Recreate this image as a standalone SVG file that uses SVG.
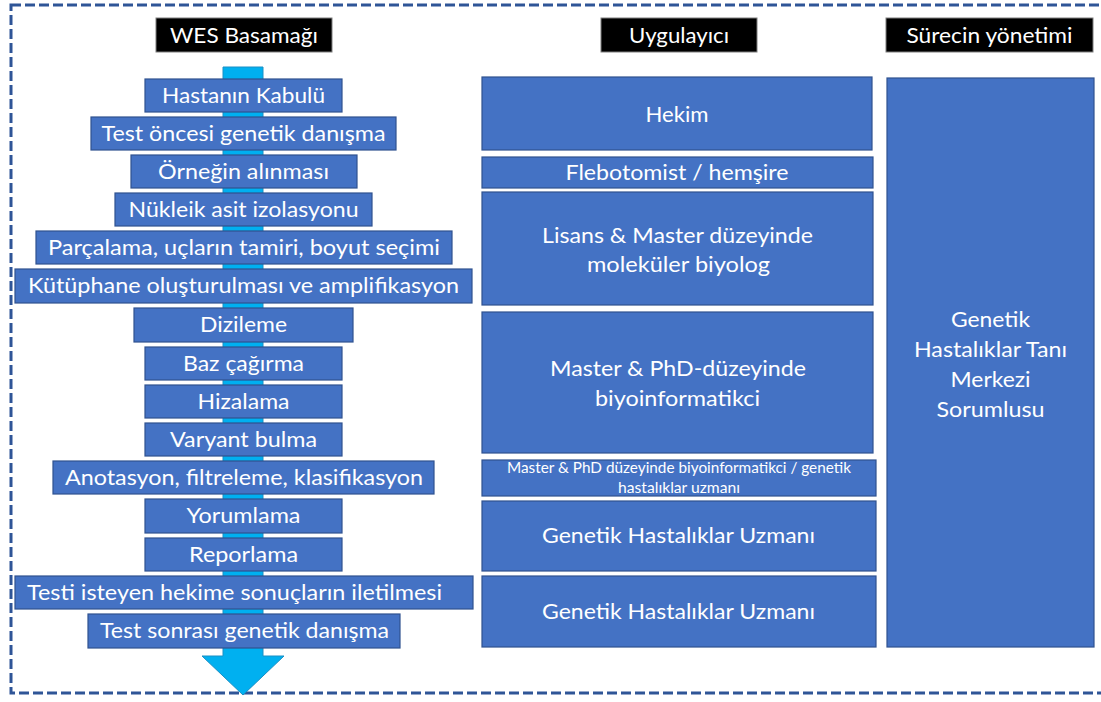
<svg xmlns="http://www.w3.org/2000/svg" width="1101" height="702" viewBox="0 0 1101 702">
<style>
.frame{fill:none;stroke:#2F5597;stroke-width:3;stroke-dasharray:10 4}
.step{fill:#4472C4;stroke:#2F528F;stroke-width:1.2}
.hdr{fill:#000;stroke:#7F7F7F;stroke-width:1}
.t{font-family:Lato,"Liberation Sans",sans-serif;font-size:22px;fill:#fff;text-anchor:middle}
.ts{font-family:Lato,"Liberation Sans",sans-serif;font-size:15px;fill:#fff;text-anchor:middle}
.arrow{fill:#00B0F0;stroke:#1A8FC4;stroke-width:1}
</style>
<rect width="1101" height="702" fill="#fff"/>
<rect class="frame" x="11" y="5" width="1100" height="688"/>

<g id="connectors">
<path class="arrow" d="M223,67 H263 V656 H284 L243,695 L202,656 H223 Z"/>
</g>

<g id="h-wes"><rect class="hdr" x="156" y="18" width="176" height="34"/><text class="t" x="244" y="43" textLength="148" lengthAdjust="spacingAndGlyphs">WES Basamağı</text></g>
<g id="h-uyg"><rect class="hdr" x="601" y="18" width="156" height="34"/><text class="t" x="679" y="43" textLength="100" lengthAdjust="spacingAndGlyphs">Uygulayıcı</text></g>
<g id="h-sur"><rect class="hdr" x="886" y="18" width="207" height="34"/><text class="t" x="989.5" y="43" textLength="166" lengthAdjust="spacingAndGlyphs">Sürecin yönetimi</text></g>

<g id="s1"><rect class="step" x="145" y="79" width="197" height="33"/><text class="t" x="243.5" y="102.5" textLength="163" lengthAdjust="spacingAndGlyphs">Hastanın Kabulü</text></g>
<g id="s2"><rect class="step" x="91" y="117" width="305" height="33"/><text class="t" x="243.5" y="140.5" textLength="284" lengthAdjust="spacingAndGlyphs">Test öncesi genetik danışma</text></g>
<g id="s3"><rect class="step" x="131" y="155" width="226" height="33"/><text class="t" x="243.5" y="178.5" textLength="171" lengthAdjust="spacingAndGlyphs">Örneğin alınması</text></g>
<g id="s4"><rect class="step" x="115" y="193" width="257" height="33"/><text class="t" x="243.5" y="216.5" textLength="230" lengthAdjust="spacingAndGlyphs">Nükleik asit izolasyonu</text></g>
<g id="s5"><rect class="step" x="36" y="231" width="416" height="33"/><text class="t" x="244" y="254.5" textLength="392" lengthAdjust="spacingAndGlyphs">Parçalama, uçların tamiri, boyut seçimi</text></g>
<g id="s6"><rect class="step" x="15" y="269" width="457" height="34"/><text class="t" x="243.5" y="293" textLength="431" lengthAdjust="spacingAndGlyphs">Kütüphane oluşturulması ve amplifikasyon</text></g>
<g id="s7"><rect class="step" x="134" y="308" width="219" height="34"/><text class="t" x="243.5" y="332" textLength="87" lengthAdjust="spacingAndGlyphs">Dizileme</text></g>
<g id="s8"><rect class="step" x="145" y="347" width="197" height="33"/><text class="t" x="243.5" y="370.5" textLength="121" lengthAdjust="spacingAndGlyphs">Baz çağırma</text></g>
<g id="s9"><rect class="step" x="145" y="385" width="197" height="33"/><text class="t" x="243.5" y="408.5" textLength="92" lengthAdjust="spacingAndGlyphs">Hizalama</text></g>
<g id="s10"><rect class="step" x="145" y="423" width="197" height="33"/><text class="t" x="243.5" y="446.5" textLength="147" lengthAdjust="spacingAndGlyphs">Varyant bulma</text></g>
<g id="s11"><rect class="step" x="53" y="461" width="381" height="33"/><text class="t" x="244" y="484.5" textLength="358" lengthAdjust="spacingAndGlyphs">Anotasyon, filtreleme, klasifikasyon</text></g>
<g id="s12"><rect class="step" x="145" y="499" width="197" height="34"/><text class="t" x="243.5" y="523" textLength="114" lengthAdjust="spacingAndGlyphs">Yorumlama</text></g>
<g id="s13"><rect class="step" x="145" y="538" width="197" height="33"/><text class="t" x="243.5" y="561.5" textLength="109" lengthAdjust="spacingAndGlyphs">Reporlama</text></g>
<g id="s14"><rect class="step" x="15" y="576" width="458" height="33"/><text class="t" x="27" y="599.5" text-anchor="start" style="text-anchor:start" textLength="415" lengthAdjust="spacingAndGlyphs">Testi isteyen hekime sonuçların iletilmesi</text></g>
<g id="s15"><rect class="step" x="88" y="614" width="312" height="34"/><text class="t" x="244.5" y="638" textLength="289" lengthAdjust="spacingAndGlyphs">Test sonrası genetik danışma</text></g>

<g id="r1"><rect class="step" x="482" y="77" width="390" height="73"/><text class="t" x="677" y="122" textLength="63" lengthAdjust="spacingAndGlyphs">Hekim</text></g>
<g id="r2"><rect class="step" x="482" y="157" width="391" height="31"/><text class="t" x="677" y="180" textLength="223" lengthAdjust="spacingAndGlyphs">Flebotomist / hemşire</text></g>
<g id="r3"><rect class="step" x="482" y="192" width="391" height="113"/><text class="t" x="677.5" y="243" textLength="271" lengthAdjust="spacingAndGlyphs">Lisans &amp; Master düzeyinde</text><text class="t" x="678.5" y="272" textLength="183" lengthAdjust="spacingAndGlyphs">moleküler biyolog</text></g>
<g id="r4"><rect class="step" x="482" y="312" width="391" height="141"/><text class="t" x="678" y="376" textLength="256" lengthAdjust="spacingAndGlyphs">Master &amp; PhD-düzeyinde</text><text class="t" x="677.5" y="406" textLength="165" lengthAdjust="spacingAndGlyphs">biyoinformatikci</text></g>
<g id="r5"><rect class="step" x="482" y="460" width="394" height="36"/><text class="ts" x="679" y="473" textLength="344" lengthAdjust="spacingAndGlyphs">Master &amp; PhD düzeyinde biyoinformatikci / genetik</text><text class="ts" x="679" y="493" textLength="122" lengthAdjust="spacingAndGlyphs">hastalıklar uzmanı</text></g>
<g id="r6"><rect class="step" x="482" y="501" width="394" height="70"/><text class="t" x="678.5" y="543" textLength="273" lengthAdjust="spacingAndGlyphs">Genetik Hastalıklar Uzmanı</text></g>
<g id="r7"><rect class="step" x="482" y="576" width="394" height="71"/><text class="t" x="678.5" y="619" textLength="273" lengthAdjust="spacingAndGlyphs">Genetik Hastalıklar Uzmanı</text></g>

<g id="m1"><rect class="step" x="887" y="78" width="207" height="569"/>
<text class="t" x="990.5" y="327" textLength="79" lengthAdjust="spacingAndGlyphs">Genetik</text>
<text class="t" x="990.5" y="357" textLength="153" lengthAdjust="spacingAndGlyphs">Hastalıklar Tanı</text>
<text class="t" x="990.5" y="387" textLength="80" lengthAdjust="spacingAndGlyphs">Merkezi</text>
<text class="t" x="990.5" y="417" textLength="108" lengthAdjust="spacingAndGlyphs">Sorumlusu</text></g>
</svg>
